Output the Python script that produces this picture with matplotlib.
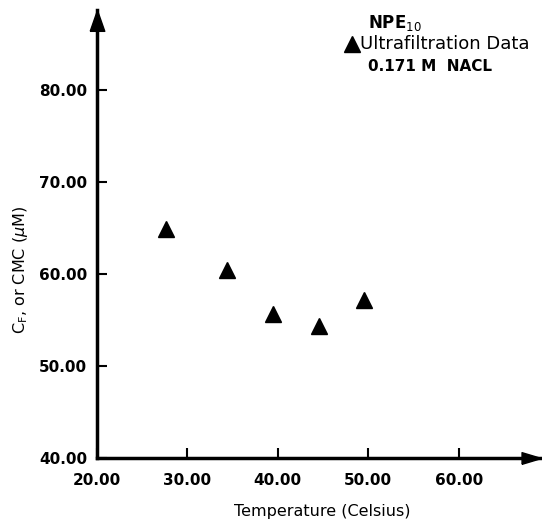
import matplotlib.pyplot as plt

plt.rcParams['font.family'] = ['DejaVu Sans']

# data
temperature = [27.6, 34.4, 39.5, 44.6, 49.5]
cmc = [64.9, 60.4, 55.7, 54.3, 57.2]
xticks = [20, 30, 40, 50, 60]
yticks = [40, 50, 60, 70, 80]

fig = plt.figure(figsize=(5.42, 5.22), dpi=100)
ax = fig.add_axes([0.179, 0.1226, 0.819, 0.858])

ax.plot(temperature, cmc, '^', color='black', ms=11, clip_on=False)

ax.set_xlim(20, 69.1)
ax.set_ylim(40, 88.7)
ax.set_xticks(xticks)
ax.set_yticks(yticks)
ax.set_xticklabels([f'{v:.2f}' for v in xticks])
ax.set_yticklabels([f'{v:.2f}' for v in yticks])
ax.tick_params(direction='in', length=7, width=1.5, labelsize=11)
ax.tick_params(axis='x', pad=11)
ax.tick_params(axis='y', pad=7)
for lab in ax.get_xticklabels() + ax.get_yticklabels():
    lab.set_fontweight('bold')

for s in ['top', 'right']:
    ax.spines[s].set_visible(False)
for s in ['left', 'bottom']:
    ax.spines[s].set_linewidth(2.5)
    ax.spines[s].set_zorder(1)

# arrow heads, tip sits on the marker origin
up_head = [(-0.7, -2), (0.7, -2), (0, 0), (-0.7, -2)]
right_head = [(-2, -0.6), (-2, 0.6), (0, 0), (-2, -0.6)]
ax.plot(0, 1, marker=up_head, color='black', ms=30, transform=ax.transAxes, clip_on=False)
ax.plot(1, 0, marker=right_head, color='black', ms=28, transform=ax.transAxes, clip_on=False)

ax.set_xlabel('Temperature (Celsius)', fontsize=11.5, va='center')
ax.xaxis.set_label_coords(0.507, -0.12)
ax.set_ylabel(r'C$_{\rm F}$, or CMC ($\mu$M)', fontsize=11.5, va='center')
ax.yaxis.set_label_coords(-0.173, 0.42)

# key in the top right
fig.text(0.679, 0.955, r'NPE$_{10}$', fontsize=12, fontweight='bold', va='center')
ax.plot(0.65, 0.916, '^', color='black', ms=11, transform=fig.transFigure, clip_on=False)
fig.text(0.664, 0.916, 'Ultrafiltration Data', fontsize=13, va='center')
fig.text(0.679, 0.872, '0.171 M  NACL', fontsize=11, fontweight='bold', va='center')

fig.savefig('out.png', dpi=100)
